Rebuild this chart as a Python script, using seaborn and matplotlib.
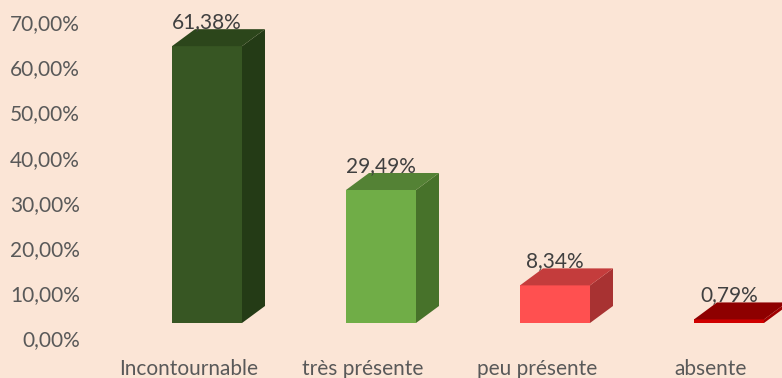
import matplotlib
matplotlib.use("Agg")
import matplotlib.pyplot as plt
from matplotlib.patches import Polygon
from matplotlib.transforms import ScaledTranslation
import seaborn as sns
import pandas as pd

# Survey answers and their shares (percent)
categories = ["Incontournable", "très présente", "peu présente", "absente"]
values = [61.38, 29.49, 8.34, 0.79]
value_labels = ["61,38%", "29,49%", "8,34%", "0,79%"]
y_ticks = [0, 10, 20, 30, 40, 50, 60, 70]
y_tick_labels = ["0,00%", "10,00%", "20,00%", "30,00%", "40,00%", "50,00%", "60,00%", "70,00%"]

# Face colours for the 3D-look columns: front, side, top
front_colors = ["#375623", "#70AD47", "#FF5050", "#D00000"]
side_colors = ["#243B16", "#47722A", "#A83232", "#A00000"]
top_colors = ["#2C461B", "#548235", "#C43C3C", "#8E0000"]

BG = "#FBE5D6"
TXT = "#595959"

sns.set_theme(style="white")
plt.rcParams["font.family"] = ["Lato", "DejaVu Sans"]

DPI = 100
W_PX, H_PX = 782, 378
fig = plt.figure(figsize=(W_PX / DPI, H_PX / DPI), dpi=DPI, facecolor=BG)

# Plot area in pixels
left_px, right_px = 120, 782
bottom_px = 55
px_per_cat = 174.0
px_per_pct = 4.51
ax = fig.add_axes([left_px / W_PX, bottom_px / H_PX,
                   (right_px - left_px) / W_PX, (H_PX - bottom_px) / H_PX])
ax.set_facecolor(BG)

df = pd.DataFrame({"cat": categories, "val": values})
bar_w = 70 / px_per_cat
sns.barplot(data=df, x="cat", y="val", hue="cat", palette=front_colors,
            width=bar_w, legend=False, ax=ax, saturation=1, linewidth=0)

x0 = -(207 - left_px) / px_per_cat
ax.set_xlim(x0, x0 + (right_px - left_px) / px_per_cat)
ax.set_ylim(0, (H_PX - bottom_px) / px_per_pct)

# Depth of the extruded columns, in data units
dx = 23 / px_per_cat
dy = 17 / px_per_pct

for i, patch in enumerate(ax.patches[:len(values)]):
    x = patch.get_x()
    w = patch.get_width()
    h = patch.get_height()
    side = Polygon([(x + w, 0), (x + w + dx, dy), (x + w + dx, h + dy), (x + w, h)],
                   closed=True, facecolor=side_colors[i], edgecolor="none", zorder=2)
    top = Polygon([(x, h), (x + dx, h + dy), (x + w + dx, h + dy), (x + w, h)],
                  closed=True, facecolor=top_colors[i], edgecolor="none", zorder=2)
    ax.add_patch(side)
    ax.add_patch(top)
    ax.text(x + w / 2, h, value_labels[i], ha="center", va="center",
            fontsize=15, color="#404040",
            transform=ax.transData + ScaledTranslation(0, 0.24, fig.dpi_scale_trans),
            zorder=3)

for s in ax.spines.values():
    s.set_visible(False)
ax.grid(False)
ax.set_xlabel("")
ax.set_ylabel("")

ax.set_yticks(y_ticks)
ax.set_yticklabels(y_tick_labels, fontsize=15, color=TXT)
ax.tick_params(axis="y", length=0, pad=28.8)
for lab in ax.get_yticklabels():
    lab.set_transform(lab.get_transform() + ScaledTranslation(0, -0.15, fig.dpi_scale_trans))

ax.set_xticks(range(len(categories)))
ax.set_xticklabels(categories, fontsize=15, color=TXT)
ax.tick_params(axis="x", length=0, pad=26)
for lab in ax.get_xticklabels():
    lab.set_transform(lab.get_transform() + ScaledTranslation(-0.18, 0, fig.dpi_scale_trans))

fig.savefig("out.png", dpi=DPI, facecolor=BG)
